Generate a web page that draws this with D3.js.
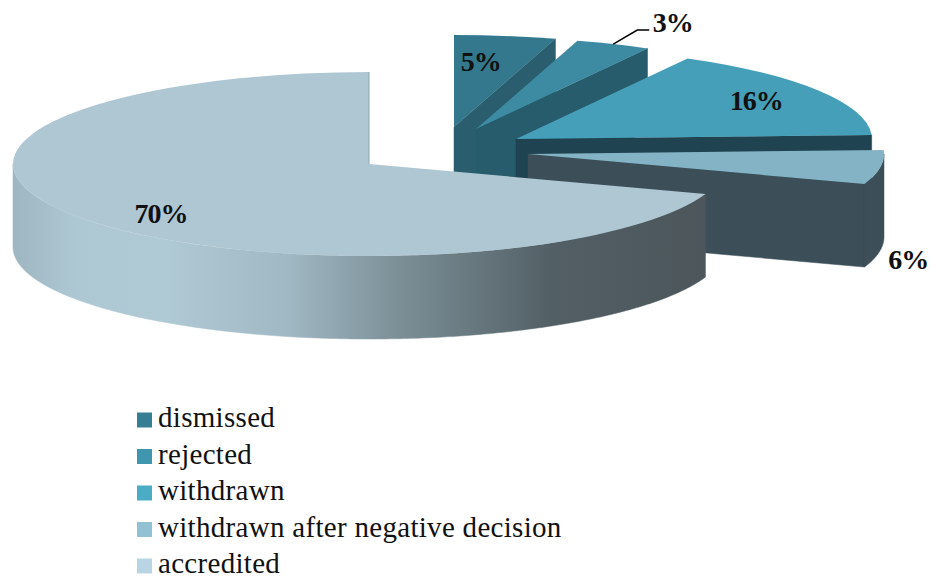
<!DOCTYPE html>
<html>
<head>
<meta charset="utf-8">
<script src="https://cdn.jsdelivr.net/npm/d3@7"></script>
<style>
  html, body { margin: 0; padding: 0; background: #fff; }
  svg { display: block; }
  text { font-family: "Liberation Serif", serif; fill: #111; }
</style>
</head>
<body>
<div id="chart"></div>
<script>
// values, the labels are the rounded ones it prints
var categories = ['dismissed', 'rejected', 'withdrawn', 'withdrawn after negative decision', 'accredited'];
var values = [4.6, 3.4, 16.3, 6, 69.7];
var labels = ['5%', '3%', '16%', '6%', '70%'];

// colours
var legendColors = ['#367e94', '#4096ae', '#4bacc6', '#92c1d3', '#b9d5e3'];
var topColors = ['#33788c', '#3d8ba2', '#469fb9', '#84b3c5', '#aec7d3'];
var sideColors = ['#2a5d6e', '#265c6c', '#1f4350', '#3c4f58', 'url(#sideFade)'];

// layout
var width = 936, height = 581;
var rx = 356, ry = 92, depth = 83;
var apexX = [454, 476, 516, 528, 369];
var apexY = [127, 129, 139, 154, 164];
var labelNudgeX = [1, 128, 89, 204, -63];
var labelNudgeY = [-10, -55, -5, 108, 32];

var svg = d3.select('#chart').append('svg')
  .attr('width', width)
  .attr('height', height);

// the shaded outer wall of the big slice
var fade = svg.append('defs').append('linearGradient')
  .attr('id', 'sideFade')
  .attr('gradientUnits', 'userSpaceOnUse')
  .attr('x1', 13).attr('x2', 705).attr('y1', 0).attr('y2', 0);
[[0, '#9db6c1'], [0.09, '#adc7d3'], [0.22, '#afc9d5'], [0.4, '#a0b8c3'],
 [0.55, '#7d9199'], [0.78, '#525f65'], [1, '#4c565b']].forEach(function(s) {
  fade.append('stop').attr('offset', s[0]).attr('stop-color', s[1]);
});

var pie = d3.pie().sort(null).value(function(d) { return d; });
var slices = pie(values);
var arc = d3.arc().innerRadius(0).outerRadius(rx);
var squash = ry / rx;

function rimPoint(i, a, drop) {
  return [apexX[i] + rx * Math.sin(a), apexY[i] - ry * Math.cos(a) + (drop || 0)];
}

var line = d3.line();
var chart = svg.append('g');

slices.forEach(function(s, i) {
  var group = chart.append('g').attr('class', 'slice');
  var wall = '';

  // radial wall on the closing edge, only when it faces us
  if (s.endAngle < Math.PI) {
    var outer = rimPoint(i, s.endAngle);
    wall += line([[apexX[i], apexY[i]], outer, [outer[0], outer[1] + depth], [apexX[i], apexY[i] + depth]]) + 'Z';
  }

  // outer wall, the front half of the rim only
  var from = Math.max(s.startAngle, Math.PI / 2), to = Math.min(s.endAngle, Math.PI * 1.5);
  if (to > from) {
    var steps = d3.range(from, to, 0.01).concat([to]);
    var top = steps.map(function(a) { return rimPoint(i, a); });
    var bottom = steps.map(function(a) { return rimPoint(i, a, depth); }).reverse();
    wall += line(top.concat(bottom)) + 'Z';
  }

  // both walls in one path so no seam shows between them
  if (wall) {
    group.append('path')
      .attr('d', wall)
      .attr('fill', sideColors[i])
      .attr('fill-rule', 'nonzero')
      .attr('stroke', sideColors[i])
      .attr('stroke-width', 0.5);
  }

  group.append('path')
    .attr('d', arc(s))
    .attr('transform', 'translate(' + apexX[i] + ',' + apexY[i] + ') scale(1,' + squash + ')')
    .attr('fill', topColors[i]);
});

// thin darker edge where the big slice opens
var last = slices.length - 1;
chart.append('path')
  .attr('d', line([[apexX[last], apexY[last]], rimPoint(last, slices[last].endAngle)]))
  .attr('stroke', '#8fa5af')
  .attr('stroke-width', 1)
  .attr('fill', 'none');

// leader of the 3% label
var rejected = slices[1];
var lead = rimPoint(1, (rejected.startAngle + rejected.endAngle) / 2);
chart.append('path')
  .attr('d', line([lead, [lead[0] + 24, lead[1] - 14], [lead[0] + 36, lead[1] - 14]]))
  .attr('stroke', '#000')
  .attr('stroke-width', 1.5)
  .attr('fill', 'none');

// percent labels
slices.forEach(function(s, i) {
  var c = arc.centroid(s);
  chart.append('text')
    .attr('x', apexX[i] + c[0] + labelNudgeX[i])
    .attr('y', apexY[i] + c[1] * squash + labelNudgeY[i])
    .attr('text-anchor', 'middle')
    .attr('font-size', 28)
    .attr('letter-spacing', -1)
    .attr('font-weight', 'bold')
    .attr('fill', '#000')
    .text(labels[i]);
});

// legend
var legendY = d3.scalePoint().domain(categories).range([412.5, 558.5]);
var legend = svg.append('g').selectAll('g')
  .data(categories)
  .join('g')
  .attr('transform', function(d) { return 'translate(137,' + legendY(d) + ')'; });
legend.append('rect')
  .attr('width', 15)
  .attr('height', 15)
  .attr('fill', function(d, i) { return legendColors[i]; });
legend.append('text')
  .attr('x', 21)
  .attr('y', 14.5)
  .attr('font-size', 29)
  .attr('letter-spacing', 0.3)
  .text(function(d) { return d; });
</script>
</body>
</html>
